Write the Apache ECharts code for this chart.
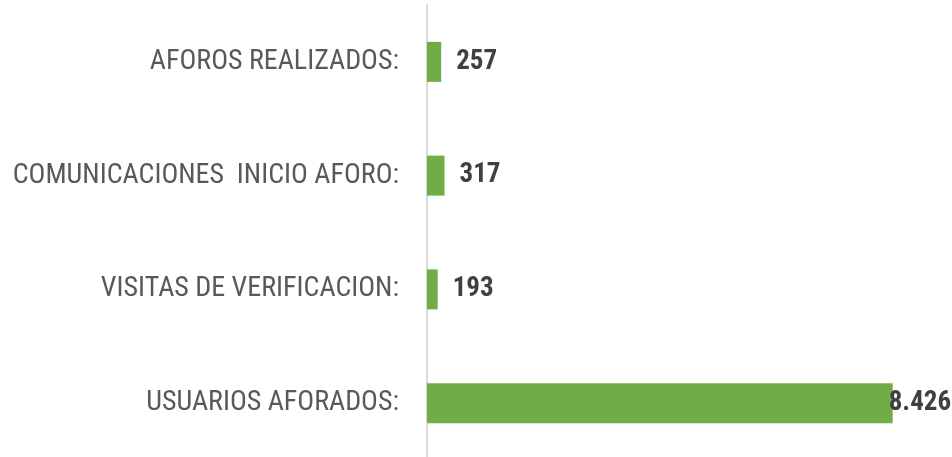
<!DOCTYPE html>
<html>
<head>
<meta charset="utf-8">
<script src="https://cdn.jsdelivr.net/npm/echarts@6/dist/echarts.min.js"></script>
<style>
html,body{margin:0;padding:0;background:#fff;}
#chart{width:952px;height:457px;}
</style>
</head>
<body>
<div id="chart"></div>
<script>
const categories = [
  "AFOROS REALIZADOS:",
  "COMUNICACIONES  INICIO AFORO:",
  "VISITAS DE VERIFICACION:",
  "USUARIOS AFORADOS:"
];
const values = [257, 317, 193, 8426];

function fmt(v) {
  return String(v).replace(/\B(?=(\d{3})+(?!\d))/g, ".");
}

const chart = echarts.init(document.getElementById('chart'), null, {renderer: 'canvas'});
const seriesData = values.map(function (v, i) {
  const item = { value: v };
  if (i === values.length - 1) {
    item.label = { distance: -4 };
  }
  return item;
});

chart.setOption({
  animation: false,
  backgroundColor: '#ffffff',
  grid: { left: 427, top: 5, height: 455, right: 27.6, containLabel: false, outerBoundsMode: 'none' },
  xAxis: {
    type: 'value',
    min: 0,
    max: 9000,
    show: false,
    splitLine: { show: false }
  },
  yAxis: {
    type: 'category',
    data: categories,
    inverse: true,
    axisLine: { show: true, lineStyle: { color: '#d9d9d9', width: 2 } },
    axisTick: { show: false },
    axisLabel: {
      margin: 28,
      color: '#595959',
      fontSize: 28,
      fontFamily: '"Roboto Condensed", sans-serif'
    }
  },
  series: [{
    type: 'bar',
    data: seriesData,
    barWidth: 40,
    itemStyle: { color: '#70AD47' },
    label: {
      show: true,
      position: 'right',
      distance: 15,
      color: '#404040',
      fontSize: 27,
      fontWeight: 'bold',
      fontFamily: '"Roboto Condensed", sans-serif',
      formatter: function (p) { return fmt(p.value); }
    }
  }]
});
</script>
</body>
</html>
